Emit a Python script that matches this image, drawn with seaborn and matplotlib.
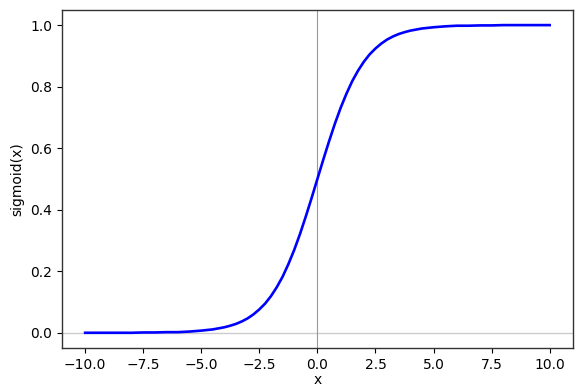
import matplotlib
matplotlib.use("Agg")
import matplotlib.pyplot as plt
import seaborn as sns
import pandas as pd

# Values
x_values = [-10.0, -9.5, -9.0, -8.5, -8.0, -7.5, -7.0, -6.5, -6.0, -5.5, -5.0, -4.5,
            -4.0, -3.75, -3.5, -3.25, -3.0, -2.75, -2.5, -2.25, -2.0, -1.75, -1.5, -1.25,
            -1.0, -0.75, -0.5, -0.25, 0.0, 0.25, 0.5, 0.75, 1.0, 1.25, 1.5, 1.75, 2.0,
            2.25, 2.5, 2.75, 3.0, 3.25, 3.5, 3.75, 4.0, 4.5, 5.0, 5.5, 6.0, 6.5, 7.0,
            7.5, 8.0, 8.5, 9.0, 9.5, 10.0]
sigmoid_values = [0.000, 0.000, 0.000, 0.000, 0.000, 0.001, 0.001, 0.002, 0.002, 0.004,
                  0.007, 0.011, 0.018, 0.023, 0.029, 0.037, 0.047, 0.060, 0.076, 0.095,
                  0.119, 0.148, 0.182, 0.223, 0.269, 0.321, 0.378, 0.438, 0.500, 0.562,
                  0.622, 0.679, 0.731, 0.777, 0.818, 0.852, 0.881, 0.905, 0.924, 0.940,
                  0.953, 0.963, 0.971, 0.977, 0.982, 0.989, 0.993, 0.996, 0.998, 0.998,
                  0.999, 0.999, 1.000, 1.000, 1.000, 1.000, 1.000]

df = pd.DataFrame({"x": x_values, "sigmoid(x)": sigmoid_values})

fig = plt.figure(figsize=(5.84, 3.89), dpi=100)
ax = fig.add_axes([0.106, 0.105, 0.875, 0.87])

ax.axhline(0, color="#cccccc", linewidth=1.0, zorder=1)
ax.axvline(0, color="#999999", linewidth=0.8, zorder=1)
sns.lineplot(data=df, x="x", y="sigmoid(x)", color="blue", linewidth=1.9, ax=ax, zorder=3)

ax.set_xlim(-11, 11)
ax.set_ylim(-0.05, 1.05)
ax.set_xticks([-10.0, -7.5, -5.0, -2.5, 0.0, 2.5, 5.0, 7.5, 10.0])
ax.set_yticks([0.0, 0.2, 0.4, 0.6, 0.8, 1.0])
ax.set_xlabel("x", fontsize=10, labelpad=1)
ax.set_ylabel("sigmoid(x)", fontsize=10)
ax.tick_params(labelsize=10)
for s in ax.spines.values():
    s.set_color("#333333")
    s.set_linewidth(1.0)

fig.savefig("out.png", dpi=100)
